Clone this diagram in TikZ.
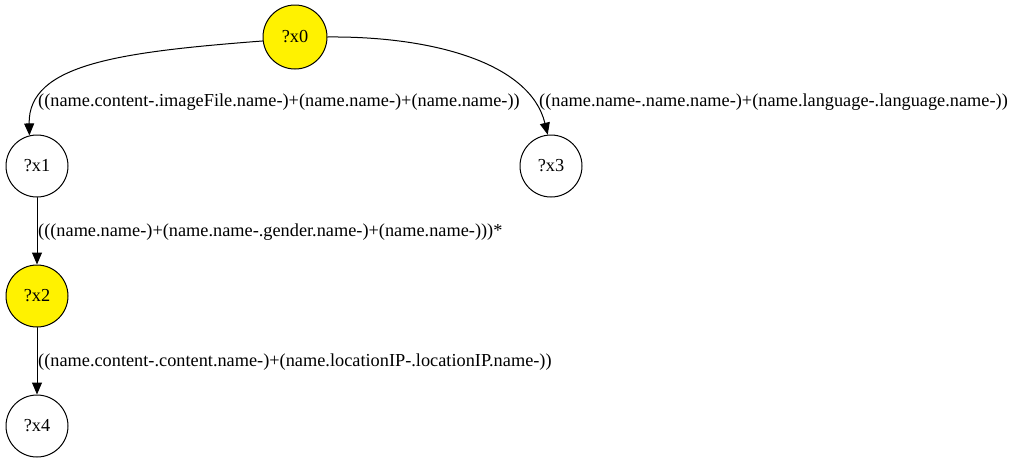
\documentclass[tikz,border=0pt]{standalone}
\usepackage{fontspec}
\setmainfont{Liberation Serif}
\usetikzlibrary{arrows.meta}

\begin{document}
\begin{tikzpicture}[line cap=round,line join=round,>={Triangle[length=12pt,width=10pt]},x=1pt,y=-1pt,
    var/.style={circle,draw=black,line width=1pt,fill=white,minimum size=62pt,inner sep=0pt,font=\fontsize{18.3}{20}\selectfont},
    hit/.style={var,fill=yellow},
    lbl/.style={anchor=west,inner sep=0pt,font=\fontsize{18.3}{20}\selectfont},
    edge/.style={->,color=black,line width=1pt}]
    \useasboundingbox (0,0) rectangle (1017,464);
    % variables
    \node[hit,minimum size=64pt] (x0) at (295,37) {?x0};
    \node[var] (x1) at (37,166) {?x1};
    \node[var] (x3) at (551,166) {?x3};
    \node[hit] (x2) at (37,296) {?x2};
    \node[var] (x4) at (37,426) {?x4};
    % paths
    \draw[edge] (x0.187) .. controls (120,52) and (28,64) .. (x1.104);
    \draw[edge] (x0.east) .. controls (430,36) and (530,62) .. (x3.96);
    \draw[edge] (x1) -- (x2);
    \draw[edge] (x2) -- (x4);
    % path expressions
    \node[lbl] (l01) at (38,102) {((name.content-.imageFile.name-)+(name.name-)+(name.name-))};
    \node[lbl] (l03) at (539,102) {((name.name-.name.name-)+(name.language-.language.name-))};
    \node[lbl] (l12) at (38,232) {(((name.name-)+(name.name-.gender.name-)+(name.name-)))*};
    \node[lbl] (l24) at (38,362) {((name.content-.content.name-)+(name.locationIP-.locationIP.name-))};
\end{tikzpicture}
\end{document}
